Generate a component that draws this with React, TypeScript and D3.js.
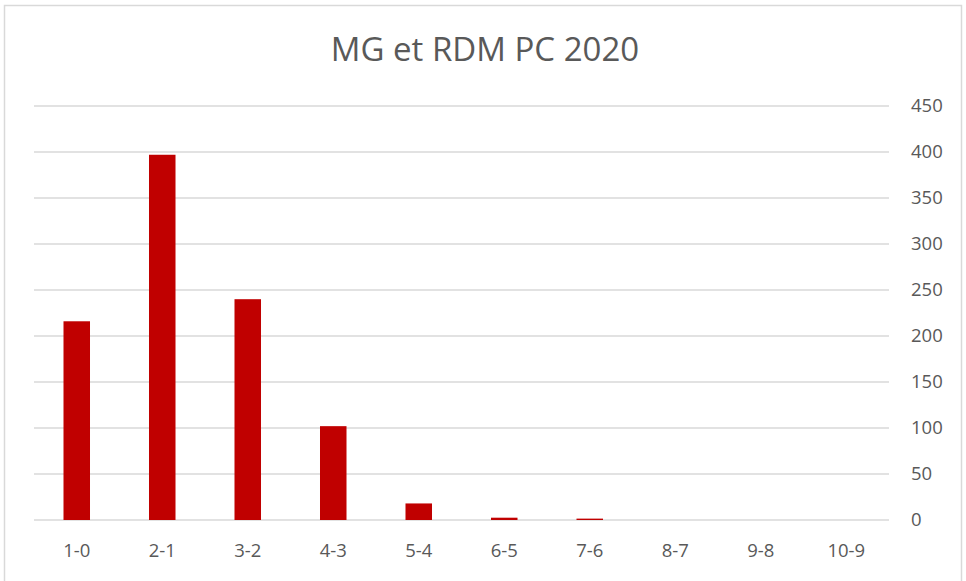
import React, { useEffect, useRef } from 'react';
import * as d3 from 'd3';

const categories = ['1-0', '2-1', '3-2', '4-3', '5-4', '6-5', '7-6', '8-7', '9-8', '10-9'];
const values = [216, 397, 240, 102, 18, 2.5, 1.5, 0, 0, 0];
const yTicks = [0, 50, 100, 150, 200, 250, 300, 350, 400, 450];
const title = 'MG et RDM PC 2020';

const App = () => {
  const ref = useRef<SVGSVGElement>(null);

  useEffect(() => {
    document.body.style.margin = '0';

    const width = 966;
    const height = 581;
    const plot = { left: 34, right: 889, top: 106, bottom: 520 };

    const svg = d3.select(ref.current)
      .attr('width', width)
      .attr('height', height);

    svg.selectAll('*').remove();

    // chart frame
    svg.append('rect')
      .attr('x', 4.5)
      .attr('y', 5.5)
      .attr('width', 957)
      .attr('height', 590)
      .attr('fill', '#fff')
      .attr('stroke', '#d9d9d9')
      .attr('stroke-width', 1.5);

    const x = d3.scaleBand()
      .domain(categories)
      .range([plot.left, plot.right])
      .paddingInner(0.69)
      .paddingOuter(0.345);

    const y = d3.scaleLinear()
      .domain([0, 450])
      .range([plot.bottom, plot.top]);

    // gridlines
    svg.append('g')
      .selectAll('line')
      .data(yTicks)
      .join('line')
      .attr('x1', plot.left)
      .attr('x2', plot.right)
      .attr('y1', d => y(d))
      .attr('y2', d => y(d))
      .attr('stroke', '#d9d9d9')
      .attr('stroke-width', 1.5);

    // bars
    svg.append('g')
      .selectAll('rect')
      .data(values)
      .join('rect')
      .attr('x', (d, i) => x(categories[i]))
      .attr('y', d => y(d))
      .attr('width', x.bandwidth())
      .attr('height', d => y(0) - y(d))
      .attr('fill', '#c00000');

    // right axis labels
    svg.append('g')
      .selectAll('text')
      .data(yTicks)
      .join('text')
      .attr('x', 911)
      .attr('y', d => y(d))
      .attr('dy', '0.35em')
      .attr('font-family', 'Open Sans')
      .attr('font-size', 18.5)
      .attr('fill', '#595959')
      .text(d => d);

    // category labels
    svg.append('g')
      .selectAll('text')
      .data(categories)
      .join('text')
      .attr('x', d => x(d) + x.bandwidth() / 2)
      .attr('y', 557)
      .attr('text-anchor', 'middle')
      .attr('font-family', 'Open Sans')
      .attr('font-size', 18.5)
      .attr('fill', '#595959')
      .text(d => d);

    // title
    svg.append('text')
      .attr('x', 485)
      .attr('y', 61)
      .attr('text-anchor', 'middle')
      .attr('font-family', 'Open Sans')
      .attr('font-size', 33)
      .attr('fill', '#595959')
      .text(title);
  }, []);

  return <svg ref={ref} style={{ display: 'block' }}></svg>;
};

export default App;
